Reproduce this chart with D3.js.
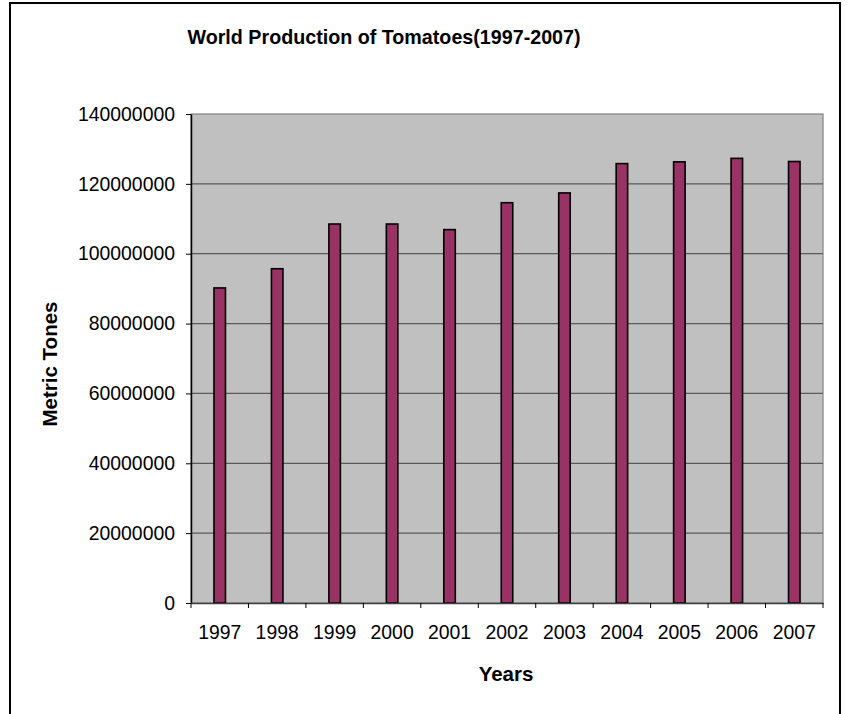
<!DOCTYPE html>
<html>
<head>
<meta charset="utf-8">
<script src="https://cdn.jsdelivr.net/npm/d3@7"></script>
<style>
  body { margin: 0; background: #fff; }
  text { font-family: "Liberation Sans", Arial, sans-serif; }
</style>
</head>
<body>
<svg id="chart" width="847" height="714"></svg>
<script>
// values
var years = ["1997", "1998", "1999", "2000", "2001", "2002", "2003", "2004", "2005", "2006", "2007"];
var production = [90200000, 95700000, 108500000, 108500000, 106900000, 114600000,
                  117400000, 125800000, 126300000, 127300000, 126400000];
var yTicks = [0, 20000000, 40000000, 60000000, 80000000, 100000000, 120000000, 140000000];

var svg = d3.select("#chart");
var plot = {left: 191, right: 823, top: 114, bottom: 603};

// outer chart border (runs off the bottom of the picture)
svg.append("rect")
    .attr("x", 10).attr("y", 3)
    .attr("width", 830).attr("height", 740)
    .attr("fill", "#fff")
    .attr("stroke", "#000")
    .attr("stroke-width", 2);

var x = d3.scaleBand().domain(years).range([plot.left, plot.right]).padding(0);
var y = d3.scaleLinear().domain([0, 140000000]).range([plot.bottom, plot.top]);

// plot background
svg.append("rect")
    .attr("x", plot.left).attr("y", plot.top)
    .attr("width", plot.right - plot.left)
    .attr("height", plot.bottom - plot.top)
    .attr("fill", "#c0c0c0")
    .attr("stroke", "#808080")
    .attr("stroke-width", 1.2);

// gridlines
svg.append("g").selectAll("line.grid")
    .data(yTicks.slice(1, -1))
    .enter().append("line")
    .attr("class", "grid")
    .attr("x1", plot.left).attr("x2", plot.right)
    .attr("y1", function(d) { return y(d); })
    .attr("y2", function(d) { return y(d); })
    .attr("stroke", "#5a5a5a")
    .attr("stroke-width", 1.3);

// bars
var barW = x.bandwidth() * 0.2;
svg.append("g").selectAll("rect.bar")
    .data(production)
    .enter().append("rect")
    .attr("class", "bar")
    .attr("x", function(d, i) { return x(years[i]) + (x.bandwidth() - barW) / 2; })
    .attr("y", function(d) { return y(d); })
    .attr("width", barW)
    .attr("height", function(d) { return y(0) - y(d); })
    .attr("fill", "#993366")
    .attr("stroke", "#000")
    .attr("stroke-width", 1.6);

// y axis
var yAxis = svg.append("g")
    .attr("transform", "translate(" + plot.left + ",0)")
    .call(d3.axisLeft(y).tickValues(yTicks).tickFormat(d3.format("d"))
        .tickSize(5).tickPadding(11).tickSizeOuter(0));
yAxis.select(".domain").attr("stroke", "#000").attr("stroke-width", 1.5);
yAxis.selectAll(".tick line").attr("stroke", "#000");
yAxis.selectAll("text").attr("font-size", "19.4px").attr("fill", "#000");

// x axis: labels centred, ticks on category boundaries
var xAxis = svg.append("g")
    .attr("transform", "translate(0," + plot.bottom + ")")
    .call(d3.axisBottom(x).tickSize(0).tickPadding(22));
xAxis.select(".domain").attr("stroke", "#404040").attr("stroke-width", 1.3);
xAxis.selectAll("text").attr("font-size", "19.4px").attr("fill", "#000");

var edges = years.map(function(d) { return x(d); }).concat([plot.right]);
xAxis.selectAll("line.edge")
    .data(edges)
    .enter().append("line")
    .attr("class", "edge")
    .attr("x1", function(d) { return d; }).attr("x2", function(d) { return d; })
    .attr("y1", 0).attr("y2", 5)
    .attr("stroke", "#000");

// titles
svg.append("text")
    .attr("x", 384).attr("y", 44)
    .attr("text-anchor", "middle")
    .attr("font-size", "19.7px").attr("font-weight", "bold")
    .text("World Production of Tomatoes(1997-2007)");

svg.append("text")
    .attr("x", 506).attr("y", 681)
    .attr("text-anchor", "middle")
    .attr("font-size", "20.5px").attr("font-weight", "bold")
    .text("Years");

svg.append("text")
    .attr("transform", "translate(57,364) rotate(-90)")
    .attr("text-anchor", "middle")
    .attr("font-size", "20.5px").attr("font-weight", "bold")
    .text("Metric Tones");
</script>
</body>
</html>
